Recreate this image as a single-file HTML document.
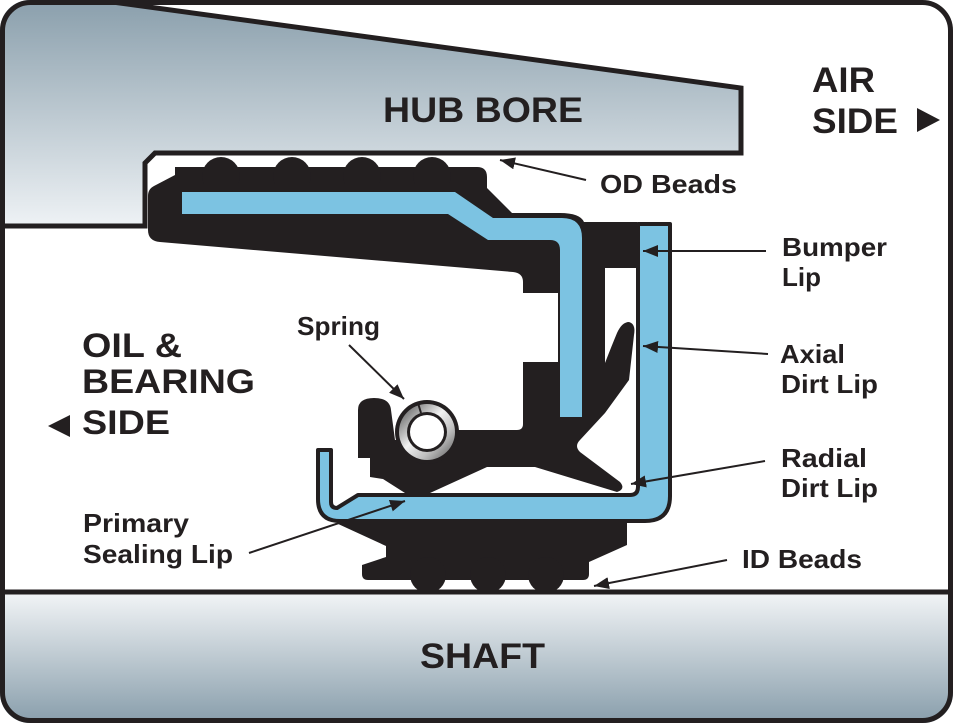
<!DOCTYPE html>
<html>
<head>
<meta charset="utf-8">
<style>
  html,body{margin:0;padding:0;background:#fff;}
  svg{display:block;}
  text{font-family:"Liberation Sans",Arial,sans-serif;font-weight:bold;fill:#231f20;}
</style>
</head>
<body>
<svg width="953" height="723" viewBox="0 0 953 723" xmlns="http://www.w3.org/2000/svg">
  <defs>
    <linearGradient id="hub" x1="0" y1="0" x2="0" y2="226" gradientUnits="userSpaceOnUse">
      <stop offset="0" stop-color="#8a9fac"/>
      <stop offset="1" stop-color="#eef2f5"/>
    </linearGradient>
    <linearGradient id="shaft" x1="0" y1="595" x2="0" y2="718" gradientUnits="userSpaceOnUse">
      <stop offset="0" stop-color="#f0f3f5"/>
      <stop offset="1" stop-color="#8ca1ae"/>
    </linearGradient>
    <linearGradient id="ring" x1="0" y1="0" x2="1" y2="1">
      <stop offset="0" stop-color="#4a4a4a"/>
      <stop offset="0.45" stop-color="#f2f2f2"/>
      <stop offset="0.7" stop-color="#bdbdbd"/>
      <stop offset="1" stop-color="#555"/>
    </linearGradient>
    <clipPath id="frame"><rect x="0" y="0" width="953" height="723" rx="30"/></clipPath>
    <marker id="ah" markerUnits="userSpaceOnUse" markerWidth="16" markerHeight="12" refX="15" refY="6" orient="auto">
      <path d="M0,0 L15,6 L0,12 Z" fill="#231f20"/>
    </marker>
  </defs>

  <rect x="0" y="0" width="953" height="723" fill="#fff"/>

  <!-- Hub bore -->
  <g clip-path="url(#frame)">
    <path d="M0,0 L105,0 L741,88 L741,153 L155,153 L145,163 L145,226 L0,226 Z" fill="url(#hub)"/>
    <rect x="0" y="592" width="953" height="131" fill="url(#shaft)"/>
  </g>
  <path d="M105,1 L741,88 L741,153 L155,153 L145,163 L145,226 L0,226" fill="none" stroke="#231f20" stroke-width="5" stroke-linejoin="miter"/>

  <!-- Main black rubber body -->
  <path d="M175,167 L477,167 Q487,167 487,177 L487,188 L512,213 L560,213 Q580,213 584,222 L637,222 L637,268 L605,268 L605,363 Q612,345 617,333 Q622,322 629,322 Q636,324 634,335 L629,380 L605,413 L580,440 Q574,446 580,452 L620,482 Q626,489 617,492 L535,467 L487,467 L430,493 L405,493 L383,479 L370,477 L370,458 L358,458 L358,410 Q358,398 374,398 Q390,398 391,410 L395,440 L427,434 L458,430 L517,430 Q523,430 523,424 L523,362 L558,362 L558,293 L523,293 L523,282 Q523,273 513,272 L160,242 Q148,241 148,230 L148,196 Q148,189 154,186 L175,175 Z" fill="#231f20"/>
  <!-- OD beads -->
  <circle cx="221" cy="176" r="19" fill="#231f20"/>
  <circle cx="292" cy="176" r="19" fill="#231f20"/>
  <circle cx="362" cy="176" r="19" fill="#231f20"/>
  <circle cx="432" cy="176" r="19" fill="#231f20"/>

  <!-- Blue outer case -->
  <path d="M182,192 L455,192 L493,218 L562,218 Q582,218 582,238 L582,417 L560,417 L560,250 Q560,240 550,240 L488,240 L448,214 L182,214 Z" fill="#7cc3e2"/>

  <!-- ID body -->
  <path d="M336,523 L627,523 L627,545 L589,562 L589,574 Q589,580 583,580 L368,580 Q362,580 362,574 L362,565 L386,557 L386,546 Z" fill="#231f20"/>
  <circle cx="428" cy="575" r="18" fill="#231f20"/>
  <circle cx="488" cy="575" r="18" fill="#231f20"/>
  <circle cx="546" cy="575" r="18" fill="#231f20"/>

  <!-- Inner sleeve (U shape) -->
  <path d="M638,224 L670,224 L670,496 Q670,521 645,521 L340,521 Q318,521 318,499 L318,450 L331,450 L331,502 Q331,508 337,508 L358,495 L630,495 Q638,495 638,487 Z" fill="#7cc3e2" stroke="#231f20" stroke-width="4" stroke-linejoin="round"/>

  <!-- Spring -->
  <circle cx="427" cy="432" r="32" fill="#231f20"/>
  <circle cx="427" cy="432" r="28" fill="url(#ring)"/>
  <circle cx="427" cy="432" r="20" fill="#231f20"/>
  <circle cx="427" cy="432" r="17" fill="#fff"/>
  <line x1="418" y1="403" x2="421" y2="413" stroke="#231f20" stroke-width="2"/>

  <!-- Shaft line & frame -->
  <line x1="0" y1="592" x2="953" y2="592" stroke="#231f20" stroke-width="5"/>
  <rect x="2.5" y="2.5" width="948" height="718" rx="28" fill="none" stroke="#231f20" stroke-width="5"/>

  <!-- Leader lines -->
  <g stroke="#231f20" stroke-width="2" fill="none">
    <line x1="586" y1="180" x2="500" y2="160" marker-end="url(#ah)"/>
    <line x1="766" y1="251" x2="643" y2="251" marker-end="url(#ah)"/>
    <line x1="768" y1="354" x2="643" y2="346" marker-end="url(#ah)"/>
    <line x1="765" y1="461" x2="631" y2="484" marker-end="url(#ah)"/>
    <line x1="727" y1="560" x2="594" y2="586" marker-end="url(#ah)"/>
    <line x1="349" y1="345" x2="404" y2="399" marker-end="url(#ah)"/>
    <line x1="249" y1="553" x2="405" y2="501" marker-end="url(#ah)"/>
  </g>

  <!-- Direction triangles -->
  <polygon points="917,108 940,120 917,132" fill="#231f20"/>
  <polygon points="70,415 48,426 70,437" fill="#231f20"/>

  <!-- Big labels -->
  <text x="383" y="122" font-size="35" textLength="200" lengthAdjust="spacingAndGlyphs">HUB BORE</text>
  <text x="812" y="92" font-size="35" textLength="63" lengthAdjust="spacingAndGlyphs">AIR</text>
  <text x="812" y="133" font-size="35" textLength="86" lengthAdjust="spacingAndGlyphs">SIDE</text>
  <text x="82" y="357" font-size="34" textLength="100" lengthAdjust="spacingAndGlyphs">OIL &amp;</text>
  <text x="82" y="393" font-size="34" textLength="173" lengthAdjust="spacingAndGlyphs">BEARING</text>
  <text x="82" y="434" font-size="34" textLength="88" lengthAdjust="spacingAndGlyphs">SIDE</text>
  <text x="420" y="668" font-size="35" textLength="125" lengthAdjust="spacingAndGlyphs">SHAFT</text>

  <!-- Small labels -->
  <text x="600" y="193" font-size="26" textLength="137" lengthAdjust="spacingAndGlyphs">OD Beads</text>
  <text x="782" y="256" font-size="26" textLength="105" lengthAdjust="spacingAndGlyphs">Bumper</text>
  <text x="782" y="286" font-size="26" textLength="39" lengthAdjust="spacingAndGlyphs">Lip</text>
  <text x="780" y="363" font-size="26" textLength="65" lengthAdjust="spacingAndGlyphs">Axial</text>
  <text x="781" y="393" font-size="26" textLength="97" lengthAdjust="spacingAndGlyphs">Dirt Lip</text>
  <text x="781" y="467" font-size="26" textLength="86" lengthAdjust="spacingAndGlyphs">Radial</text>
  <text x="781" y="497" font-size="26" textLength="97" lengthAdjust="spacingAndGlyphs">Dirt Lip</text>
  <text x="742" y="568" font-size="26" textLength="120" lengthAdjust="spacingAndGlyphs">ID Beads</text>
  <text x="83" y="532" font-size="26" textLength="106" lengthAdjust="spacingAndGlyphs">Primary</text>
  <text x="83" y="563" font-size="26" textLength="150" lengthAdjust="spacingAndGlyphs">Sealing Lip</text>
  <text x="297" y="335" font-size="26" textLength="83" lengthAdjust="spacingAndGlyphs">Spring</text>
</svg>
</body>
</html>
